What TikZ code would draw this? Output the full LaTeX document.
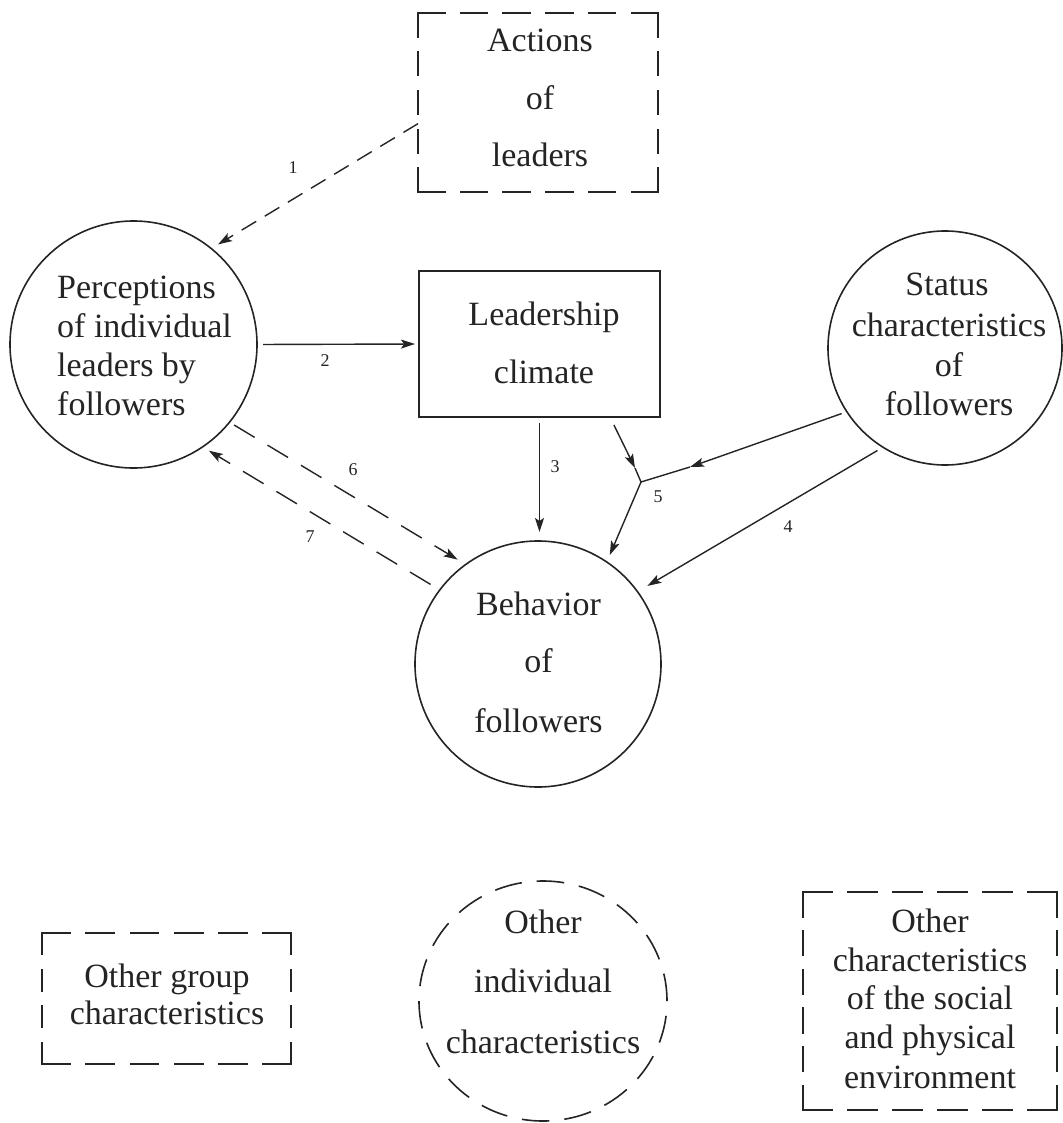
\documentclass[tikz,border=0pt]{standalone}
\usepackage{fontspec}
\setmainfont{Liberation Serif}
\usetikzlibrary{arrows.meta,shapes.geometric}
\definecolor{ink}{gray}{0.14}
\begin{document}
\begin{tikzpicture}[x=1pt,y=-1pt,
  txt/.style={font=\fontsize{34}{40}\selectfont, text=ink, inner sep=0pt, anchor=base},
  num/.style={font=\fontsize{18}{20}\selectfont, text=ink, inner sep=0pt},
  outl/.style={draw=ink, line width=1.6pt, inner sep=0pt, outer sep=0pt},
  circ/.style={outl, circle},
  frame/.style={inner sep=0pt, outer sep=0pt, rectangle},
  dside/.style={draw=ink, line width=1.7pt, line cap=rect},
  lin/.style={draw=ink, line width=1.4pt},
  arr/.style={lin, -{Stealth[length=14pt,width=9pt,inset=3pt]}},
  darr/.style={arr, dash pattern=on 24pt off 15pt},
  darrs/.style={arr, dash pattern=on 17pt off 10pt}
]
\useasboundingbox (0,0) rectangle (1062,1123);

% ---------- shapes ----------
\node[frame, minimum width=240pt, minimum height=179pt] (A) at (538,102.5) {};
\node[circ, minimum size=247pt] (P) at (133.5,344.5) {};
\node[outl, rectangle, minimum width=241pt, minimum height=146pt] (L) at (539.5,344) {};
\node[circ, minimum size=234pt] (S) at (945,348) {};
\node[circ, minimum size=246pt] (B) at (538,664) {};
\node[frame, minimum width=249pt, minimum height=131pt] (G) at (166.5,998.5) {};
\node[outl, ellipse, dash pattern=on 27.6pt off 15pt, minimum width=248pt, minimum height=240pt] (I) at (543,1001) {};
\node[frame, minimum width=254pt, minimum height=218pt] (E) at (930,1001) {};

% dashed frames, each side its own dash run so the corners stay solid
\draw[dside, dash pattern=on 26.67pt off 16pt] (A.north west) -- (A.north east) (A.south west) -- (A.south east);
\draw[dside, dash pattern=on 23.8pt off 15pt] (A.north west) -- (A.south west) (A.north east) -- (A.south east);
\draw[dside, dash pattern=on 28.2pt off 16pt] (G.north west) -- (G.north east) (G.south west) -- (G.south east);
\draw[dside, dash pattern=on 21.5pt off 15pt] (G.north west) -- (G.south west) (G.north east) -- (G.south east);
\draw[dside, dash pattern=on 29pt off 16pt] (E.north west) -- (E.north east) (E.south west) -- (E.south east);
\draw[dside, dash pattern=on 24.7pt off 14pt] (E.north west) -- (E.south west) (E.north east) -- (E.south east);

% ---------- texts ----------
\node[txt] (a1) at (540,52) {Actions};
\node[txt] (a2) at (540,110) {of};
\node[txt] (a3) at (540,167) {leaders};

\node[txt, anchor=base west] (p1) at (57,298) {Perceptions};
\node[txt, anchor=base west] (p2) at (57,337) {of individual};
\node[txt, anchor=base west] (p3) at (57,376) {leaders by};
\node[txt, anchor=base west] (p4) at (57,415) {followers};

\node[txt] (l1) at (544,325) {Leadership};
\node[txt] (l2) at (544,383) {climate};

\node[txt] (s1) at (947,295) {Status};
\node[txt] (s2) at (949,336) {characteristics};
\node[txt] (s3) at (949,376) {of};
\node[txt] (s4) at (949,415) {followers};

\node[txt] (b1) at (538.5,615) {Behavior};
\node[txt] (b2) at (538.5,672) {of};
\node[txt] (b3) at (538.5,732) {followers};

\node[txt] (g1) at (167,987) {Other group};
\node[txt] (g2) at (167,1024) {characteristics};

\node[txt] (i1) at (543,933) {Other};
\node[txt] (i2) at (543,992) {individual};
\node[txt] (i3) at (543,1053) {characteristics};

\node[txt] (e1) at (930,932) {Other};
\node[txt] (e2) at (930,971) {characteristics};
\node[txt] (e3) at (930,1009) {of the social};
\node[txt] (e4) at (930,1048) {and physical};
\node[txt] (e5) at (930,1088) {environment};

% ---------- connectors ----------
\draw[darrs, shorten >=8pt] (A.190.6) -- (P.51.2);
\draw[arr, shorten <=6pt, shorten >=4pt] (P.east) -- (L.west);
\draw[arr, shorten <=6pt, shorten >=9pt] (L.south) -- (L.south |- B.north);
\draw[arr, shorten <=6.5pt, shorten >=11.4pt] (S.238.2) -- (B.36.5);

\coordinate (J) at (641,482);
\coordinate (m5a) at (635,468);
\coordinate (m5b) at (690,467);
\draw[arr, shorten <=8.8pt] (L.314.5) -- (m5a);
\draw[lin] (m5a) -- (J);
\draw[arr, shorten <=5.6pt] (S.213.7) -- (m5b);
\draw[lin] (m5b) -- (J);
\draw[arr, shorten >=7.6pt] (J) -- (B.56.6);

\draw[darr, shorten <=5.4pt, shorten >=9.4pt] (P.321.9) -- (B.126.1);
\draw[darr, shorten <=10.8pt, shorten >=7.3pt] (B.143.8) -- (P.304.7);

% ---------- connector labels ----------
\node[num] (n1) at (293,168) {1};
\node[num] (n2) at (325,361) {2};
\node[num] (n3) at (555,467) {3};
\node[num] (n4) at (788,527) {4};
\node[num] (n5) at (658,497) {5};
\node[num] (n6) at (353,470) {6};
\node[num] (n7) at (310,537) {7};
\end{tikzpicture}
\end{document}
